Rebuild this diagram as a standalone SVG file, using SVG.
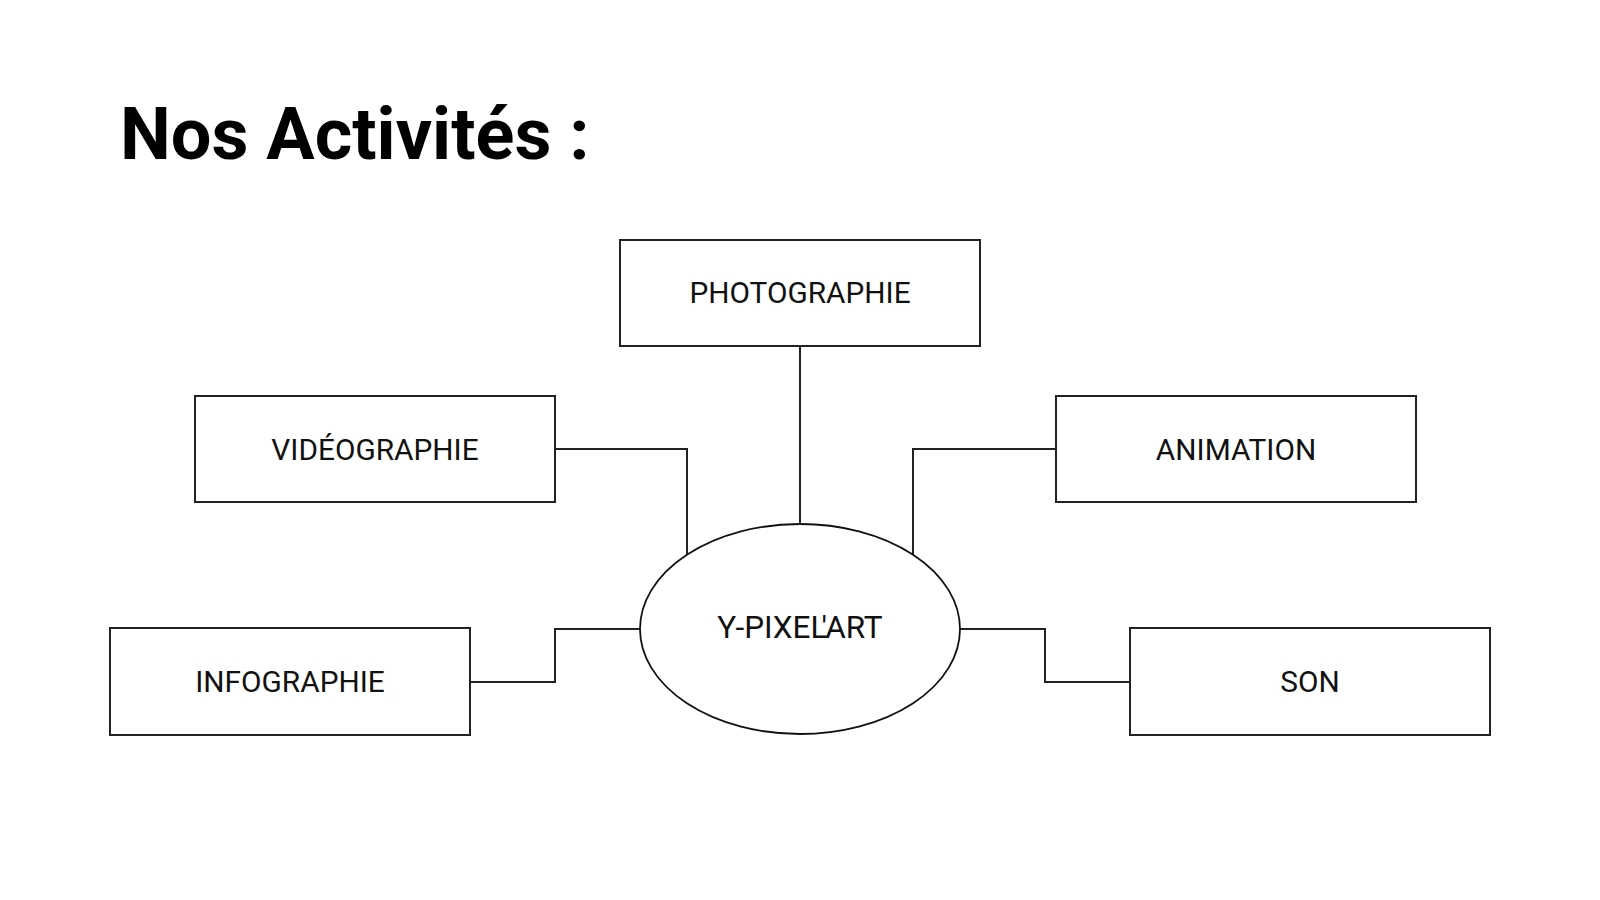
<svg xmlns="http://www.w3.org/2000/svg" width="1600" height="900" viewBox="0 0 1600 900">
<style>
.box{fill:#fff;stroke:#222;stroke-width:2}
.ell{fill:#fff;stroke:#111;stroke-width:1.8}
.lbl{font-family:Roboto,"Liberation Sans",sans-serif;font-size:29.8px;fill:#111;text-anchor:middle}
.conn{fill:none;stroke:#222;stroke-width:2}
.title{font-family:Roboto,"Liberation Sans",sans-serif;font-size:72px;font-weight:bold;fill:#000}
</style>
<rect width="1600" height="900" fill="#fff"/>
<text class="title" x="120" y="159">Nos Activités :</text>
<g id="connectors">
<path class="conn" d="M800 346 V524"/>
<path class="conn" d="M555 449 H687 V555"/>
<path class="conn" d="M1056 449 H913 V555"/>
<path class="conn" d="M470 682 H555 V629 H640"/>
<path class="conn" d="M960 629 H1045 V682 H1130"/>
</g>
<g id="photographie"><rect class="box" x="620" y="240" width="360" height="106"/><text class="lbl" x="800" y="303">PHOTOGRAPHIE</text></g>
<g id="videographie"><rect class="box" x="195" y="396" width="360" height="106"/><text class="lbl" x="375" y="460">VIDÉOGRAPHIE</text></g>
<g id="animation"><rect class="box" x="1056" y="396" width="360" height="106"/><text class="lbl" x="1236" y="460">ANIMATION</text></g>
<g id="infographie"><rect class="box" x="110" y="628" width="360" height="107"/><text class="lbl" x="290" y="692">INFOGRAPHIE</text></g>
<g id="son"><rect class="box" x="1130" y="628" width="360" height="107"/><text class="lbl" x="1310" y="692">SON</text></g>
<g id="ypixelart"><ellipse class="ell" cx="800" cy="629" rx="160" ry="105"/><text class="lbl" x="800" y="638" style="font-size:31.5px">Y-PIXEL<tspan dx="-6">'</tspan><tspan dx="0">ART</tspan></text></g>
</svg>
